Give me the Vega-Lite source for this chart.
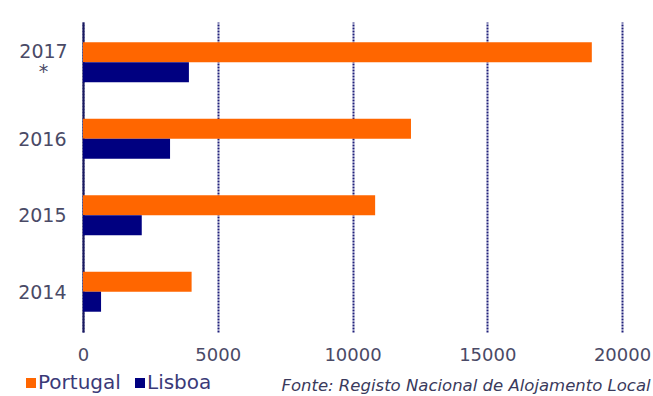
{
  "$schema": "https://vega.github.io/schema/vega-lite/v6.json",
  "width": 539,
  "height": 310,
  "autosize": {"type": "none"},
  "padding": {"left": 83, "top": 22, "right": 31, "bottom": 64},
  "background": "white",
  "view": {"stroke": null},
  "title": {
    "text": "Fonte: Registo Nacional de Alojamento Local",
    "orient": "bottom",
    "anchor": "end",
    "dx": 0,
    "offset": -15,
    "font": "DejaVu Sans",
    "fontStyle": "italic",
    "fontWeight": "normal",
    "fontSize": 16.5,
    "color": "#3a3a5c"
  },
  "data": {
    "values": [
      {"ano": "2017*", "serie": "Portugal", "alojamentos": 18880},
      {"ano": "2017*", "serie": "Lisboa", "alojamentos": 3930},
      {"ano": "2016", "serie": "Portugal", "alojamentos": 12170},
      {"ano": "2016", "serie": "Lisboa", "alojamentos": 3230},
      {"ano": "2015", "serie": "Portugal", "alojamentos": 10840},
      {"ano": "2015", "serie": "Lisboa", "alojamentos": 2180},
      {"ano": "2014", "serie": "Portugal", "alojamentos": 4030},
      {"ano": "2014", "serie": "Lisboa", "alojamentos": 670}
    ]
  },
  "mark": {"type": "bar"},
  "encoding": {
    "y": {
      "field": "ano",
      "type": "nominal",
      "sort": ["2017*", "2016", "2015", "2014"],
      "scale": {"paddingInner": 0.477, "paddingOuter": 0.265},
      "axis": {
        "title": null,
        "labelExpr": "indexof(datum.value, '*') > 0 ? [replace(datum.value, '*', ''), '*'] : datum.value",
        "labelFont": "DejaVu Sans",
        "labelFontSize": 19,
        "labelColor": "#4a4a66",
        "labelPadding": {"condition": {"test": "indexof(datum.value, '*') > 0", "value": 40}, "value": 17},
        "labelAlign": {"condition": {"test": "indexof(datum.value, '*') > 0", "value": "center"}, "value": "right"},
        "labelLineHeight": 20,
        "labelOffset": {"condition": {"test": "indexof(datum.value, '*') > 0", "value": -10}, "value": 1},
        "ticks": false,
        "domainColor": "#1a1a5e",
        "domainWidth": 2,
        "grid": false
      }
    },
    "yOffset": {
      "field": "serie",
      "type": "nominal",
      "sort": ["Portugal", "Lisboa"],
      "scale": {"paddingInner": 0, "paddingOuter": 0}
    },
    "x": {
      "field": "alojamentos",
      "type": "quantitative",
      "scale": {"domain": [0, 20000], "nice": false},
      "axis": {
        "title": null,
        "values": [0, 5000, 10000, 15000, 20000],
        "format": "d",
        "labelFont": "DejaVu Sans",
        "labelFontSize": 18,
        "labelColor": "#4a4a66",
        "labelPadding": 14,
        "labelFlush": false,
        "ticks": false,
        "domain": false,
        "grid": true,
        "gridColor": "#1f1f7a",
        "gridWidth": 2,
        "gridDash": [2, 1]
      }
    },
    "color": {
      "field": "serie",
      "type": "nominal",
      "sort": ["Portugal", "Lisboa"],
      "scale": {"domain": ["Portugal", "Lisboa"], "range": ["#ff6600", "#000080"]},
      "legend": {
        "title": null,
        "orient": "none",
        "direction": "horizontal",
        "legendX": -62,
        "legendY": 351,
        "symbolType": "square",
        "symbolSize": 100,
        "symbolStrokeWidth": 0,
        "labelFont": "DejaVu Sans",
        "labelFontSize": 20,
        "labelColor": "#3a3a78",
        "labelOffset": -3,
        "columnPadding": 9,
        "padding": 0
      }
    }
  }
}
